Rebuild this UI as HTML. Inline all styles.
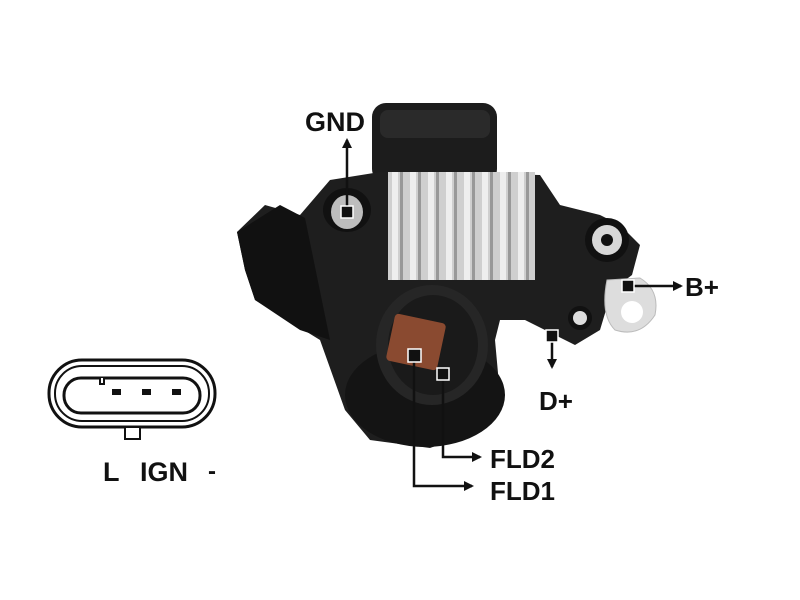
<!DOCTYPE html>
<html><head><style>
html,body{margin:0;padding:0;background:#fff;width:800px;height:600px;overflow:hidden}
svg{display:block}
text{font-family:"Liberation Sans",sans-serif;font-weight:bold;fill:#111}
</style></head><body>
<svg width="800" height="600" viewBox="0 0 800 600">
<defs>
<marker id="ah" markerWidth="10" markerHeight="10" refX="8" refY="5" orient="auto" markerUnits="userSpaceOnUse">
<path d="M0,0 L10,5 L0,10 z" fill="#111"/></marker>
</defs>
<!-- connector icon -->
<rect x="49" y="360" width="166" height="67" rx="33" fill="none" stroke="#111" stroke-width="3"/>
<rect x="55" y="366" width="154" height="55" rx="27" fill="none" stroke="#111" stroke-width="2"/>
<rect x="64" y="378" width="136" height="35" rx="17" fill="none" stroke="#111" stroke-width="3"/>
<path d="M100,378 v6 h4 v-6" fill="#fff" stroke="#111" stroke-width="2"/>
<rect x="112" y="389" width="9" height="6" fill="#111"/>
<rect x="142" y="389" width="9" height="6" fill="#111"/>
<rect x="172" y="389" width="9" height="6" fill="#111"/>
<rect x="125" y="427" width="15" height="12" fill="#fff" stroke="#111" stroke-width="2"/>
<text x="103" y="481" font-size="27" transform="scale(1,1)">L</text>
<text x="140" y="481" font-size="27">IGN</text>
<text x="208" y="479" font-size="24">-</text>

<!-- regulator body -->
<rect x="372" y="103" width="125" height="80" rx="14" fill="#1c1c1c"/>
<rect x="380" y="110" width="110" height="28" rx="8" fill="#2a2a2a"/>
<path d="M237,232 L265,205 L300,215 L330,180 L380,172 L540,175 L560,205 L600,215 L620,225 L640,245 L632,275 L612,290 L600,330 L575,345 L545,330 L525,320 L500,320 L495,340 L500,395 L480,430 L430,448 L370,440 L345,410 L320,340 L255,300 L245,270 Z" fill="#1e1e1e"/>
<path d="M237,232 L280,205 L305,218 L330,340 L300,330 L255,300 L245,270 Z" fill="#111"/>
<ellipse cx="425" cy="395" rx="80" ry="52" fill="#141414"/>
<ellipse cx="432" cy="345" rx="56" ry="60" fill="#262626"/>
<ellipse cx="433" cy="345" rx="45" ry="50" fill="#1a1a1a"/>
<rect x="390" y="318" width="52" height="48" rx="4" fill="#8a4a30" transform="rotate(12 416 342)"/>
<!-- heatsink -->
<rect x="388" y="172" width="147" height="108" fill="#cfcfcf"/>
<g fill="#999">
<rect x="400" y="172" width="3" height="108"/><rect x="418" y="172" width="3" height="108"/>
<rect x="436" y="172" width="3" height="108"/><rect x="454" y="172" width="3" height="108"/>
<rect x="472" y="172" width="3" height="108"/><rect x="490" y="172" width="3" height="108"/>
<rect x="508" y="172" width="3" height="108"/><rect x="526" y="172" width="3" height="108"/>
</g>
<g fill="#eee">
<rect x="392" y="172" width="6" height="108"/><rect x="410" y="172" width="6" height="108"/>
<rect x="428" y="172" width="6" height="108"/><rect x="446" y="172" width="6" height="108"/>
<rect x="464" y="172" width="6" height="108"/><rect x="482" y="172" width="6" height="108"/>
<rect x="500" y="172" width="6" height="108"/><rect x="518" y="172" width="6" height="108"/>
</g>
<!-- GND hole -->
<ellipse cx="347" cy="210" rx="24" ry="22" fill="#111"/>
<ellipse cx="347" cy="212" rx="16" ry="17" fill="#bdbdbd"/>
<!-- right bracket hole -->
<circle cx="607" cy="240" r="22" fill="#111"/>
<circle cx="607" cy="240" r="15" fill="#d8d8d8"/>
<circle cx="607" cy="240" r="6" fill="#111"/>
<!-- washer -->
<path d="M607,280 L640,278 Q660,290 655,315 Q640,338 615,330 Q600,315 607,280 Z" fill="#ddd" stroke="#bbb"/>
<circle cx="632" cy="312" r="11" fill="#fff"/>
<circle cx="580" cy="318" r="12" fill="#111"/>
<circle cx="580" cy="318" r="7" fill="#ddd"/>

<!-- labels -->
<text x="305" y="131" font-size="27">GND</text>
<line x1="347" y1="208" x2="347" y2="140" stroke="#111" stroke-width="2.5" marker-end="url(#ah)"/>
<rect x="341" y="206" width="12" height="12" fill="#111" stroke="#fff" stroke-width="1.5"/>

<line x1="630" y1="286" x2="681" y2="286" stroke="#111" stroke-width="2.5" marker-end="url(#ah)"/>
<rect x="622" y="280" width="12" height="12" fill="#111" stroke="#fff" stroke-width="1.5"/>
<text x="685" y="296" font-size="26">B+</text>

<line x1="552" y1="336" x2="552" y2="367" stroke="#111" stroke-width="2.5" marker-end="url(#ah)"/>
<rect x="546" y="330" width="12" height="12" fill="#111" stroke="#fff" stroke-width="1.5"/>
<text x="539" y="410" font-size="26">D+</text>

<polyline points="443,374 443,457 480,457" fill="none" stroke="#111" stroke-width="2.5" marker-end="url(#ah)"/>
<rect x="437" y="368" width="12" height="12" fill="#111" stroke="#fff" stroke-width="1.5"/>
<text x="490" y="468" font-size="26">FLD2</text>

<polyline points="414,356 414,486 472,486" fill="none" stroke="#111" stroke-width="2.5" marker-end="url(#ah)"/>
<rect x="408" y="349" width="13" height="13" fill="#111" stroke="#fff" stroke-width="1.5"/>
<text x="490" y="500" font-size="26">FLD1</text>
</svg>
</body></html>
